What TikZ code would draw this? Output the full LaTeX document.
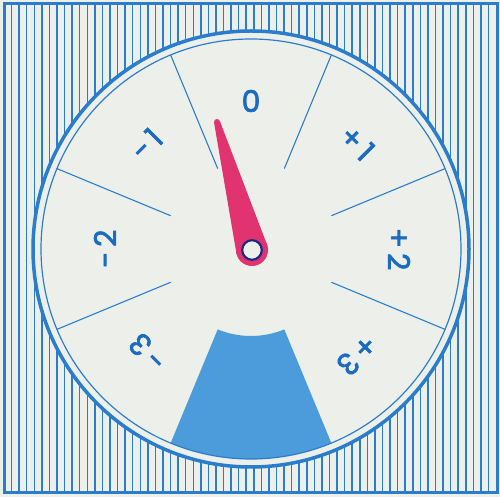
\documentclass[tikz,border=0pt]{standalone}
\usepackage{fontspec}
\setmainfont{Poppins}[FakeBold=2.2]
\usetikzlibrary{calc}
\definecolor{paper}{HTML}{EDF0EA}
\definecolor{dialblue}{HTML}{2A7DCC}
\definecolor{txtblue}{HTML}{1B6CC0}
\definecolor{fillblue}{HTML}{4C9BDA}
\definecolor{needlepink}{HTML}{E0336F}
\definecolor{navy}{HTML}{1C2C86}
\begin{document}
\begin{tikzpicture}[x=1pt,y=1pt,
  lbl/.style={text=txtblue, font=\fontsize{30}{30}\selectfont, inner sep=0pt},
  stripe/.style={dialblue, line width=1.5},
  radial/.style={dialblue, line width=1.1}]
\useasboundingbox (0,0) rectangle (500,497);
\fill[paper] (0,0) rectangle (500,497);
\coordinate (C) at (251,248);
\foreach \k in {1,...,64} \draw[stripe] ({4+\k*7.57},4) -- ({4+\k*7.57},493);
\draw[dialblue, line width=3] (4,4) rectangle (497,493);
\fill[paper] (C) circle[radius=218];
\draw[dialblue, line width=3.5] (C) circle[radius=218];
% blank blue sector
\fill[fillblue] ($(C)+(-67.5:87)$) arc[start angle=-67.5, end angle=-112.5, radius=87]
  -- ($(C)+(-112.5:210)$) arc[start angle=-112.5, end angle=-67.5, radius=210] -- cycle;
\draw[dialblue, line width=1.2] (C) circle[radius=210];
\foreach \a in {22.5,67.5,112.5,-22.5,-67.5,-112.5}
  \draw[radial] ($(C)+(90-\a:87)$) -- ($(C)+(90-\a:210)$);
% labels
\node[lbl] (l0) at ($(C)+(90:148)$) {0};
\node[lbl, rotate=-45] (lp1) at ($(C)+(45:150)$) {+\,1};
\node[lbl, rotate=-90] (lp2) at ($(C)+(0:148)$) {+\,2};
\node[lbl, rotate=-135] (lp3) at ($(C)+(-45:150)$) {+\,3};
\node[lbl, rotate=45] (lm1) at ($(C)+(135:148)$) {−\,1};
\node[lbl, rotate=90] (lm2) at ($(C)+(180:146)$) {−\,2};
\node[lbl, rotate=135] (lm3) at ($(C)+(225:146)$) {−\,3};
% needle
\coordinate (hub) at (252,247);
\coordinate (tip) at (217,375);
\fill[needlepink] ($(hub)!16pt!90:(tip)$) -- ($(tip)!3pt!-90:(hub)$)
  -- ($(tip)!3pt!90:(hub)$) -- ($(hub)!16pt!-90:(tip)$) -- cycle;
\fill[needlepink] (hub) circle[radius=16];
\fill[needlepink] (tip) circle[radius=3];
\draw[navy, line width=2.2, fill=paper] (hub) circle[radius=9.8];
\end{tikzpicture}
\end{document}
